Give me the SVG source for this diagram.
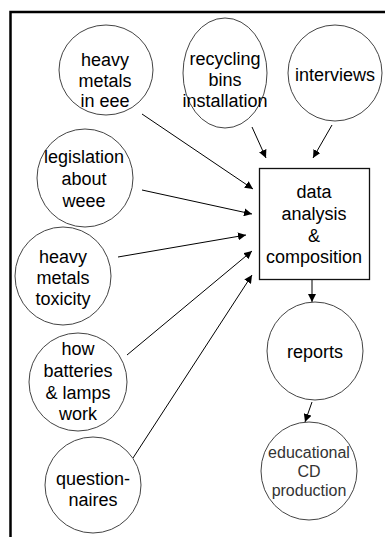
<svg xmlns="http://www.w3.org/2000/svg" width="385" height="537" viewBox="0 0 385 537">
<defs>
<marker id="ah" viewBox="0 0 10 10" refX="10" refY="5" markerWidth="8" markerHeight="8" markerUnits="userSpaceOnUse" orient="auto">
<path d="M0,0 L10,5 L0,10 z" fill="#000"/>
</marker>
<style>
.n{fill:#fff;stroke:#444;stroke-width:1}
.b{fill:#fff;stroke:#111;stroke-width:1.3}
.t{font-family:"Liberation Sans",Arial,sans-serif;font-size:18px;fill:#000;text-anchor:middle}
.g{font-family:"Liberation Sans",Arial,sans-serif;font-size:16px;fill:#333;text-anchor:middle}
.c{stroke:#000;stroke-width:1;fill:none;marker-end:url(#ah)}
</style>
</defs>
<rect width="385" height="537" fill="#fff"/>
<path d="M10.5,537 L10.5,12 L385,12" fill="none" stroke="#000" stroke-width="2.5"/>
<g id="connectors">
<line class="c" x1="142" y1="114" x2="253" y2="189"/>
<line class="c" x1="252" y1="127" x2="266" y2="158"/>
<line class="c" x1="332" y1="125" x2="313" y2="158"/>
<line class="c" x1="142" y1="190" x2="252" y2="214"/>
<line class="c" x1="118" y1="257" x2="246" y2="235"/>
<line class="c" x1="127" y1="355" x2="252" y2="251"/>
<line class="c" x1="133" y1="458" x2="252" y2="275"/>
<line class="c" x1="312" y1="280" x2="312" y2="302"/>
<line class="c" x1="312" y1="402" x2="305" y2="422"/>
</g>
<g id="n-eee">
<ellipse class="n" cx="106" cy="70" rx="47" ry="45"/>
<text class="t" x="105" y="66">heavy</text>
<text class="t" x="105" y="87">metals</text>
<text class="t" x="105" y="107">in eee</text>
</g>
<g id="n-recycling">
<ellipse class="n" cx="225" cy="73" rx="42" ry="55"/>
<text class="t" x="225" y="65">recycling</text>
<text class="t" x="225" y="86">bins</text>
<text class="t" x="225" y="107">installation</text>
</g>
<g id="n-interviews">
<ellipse class="n" cx="335" cy="73" rx="47" ry="48"/>
<text class="t" x="335" y="81">interviews</text>
</g>
<g id="n-legislation">
<ellipse class="n" cx="85" cy="178" rx="48" ry="49"/>
<text class="t" x="84" y="163">legislation</text>
<text class="t" x="84" y="185">about</text>
<text class="t" x="84" y="207">weee</text>
</g>
<g id="n-toxicity">
<ellipse class="n" cx="63" cy="276" rx="48" ry="49"/>
<text class="t" x="63" y="263">heavy</text>
<text class="t" x="63" y="284">metals</text>
<text class="t" x="63" y="305">toxicity</text>
</g>
<g id="n-batteries">
<ellipse class="n" cx="78" cy="382" rx="49" ry="49"/>
<text class="t" x="78" y="355">how</text>
<text class="t" x="78" y="377">batteries</text>
<text class="t" x="78" y="399">&amp; lamps</text>
<text class="t" x="78" y="420">work</text>
</g>
<g id="n-questionnaires">
<ellipse class="n" cx="93" cy="485" rx="48" ry="48"/>
<text class="t" x="93" y="485">question-</text>
<text class="t" x="93" y="506">naires</text>
</g>
<g id="n-data">
<rect class="b" x="259.5" y="168.5" width="110" height="111"/>
<text class="t" x="314" y="198">data</text>
<text class="t" x="314" y="220">analysis</text>
<text class="t" x="314" y="242">&amp;</text>
<text class="t" x="314" y="263">composition</text>
</g>
<g id="n-reports">
<ellipse class="n" cx="315" cy="351" rx="48" ry="49"/>
<text class="t" x="315" y="358">reports</text>
</g>
<g id="n-cd">
<ellipse class="n" cx="309" cy="471" rx="48" ry="49"/>
<text class="g" x="309" y="458">educational</text>
<text class="g" x="309" y="477">CD</text>
<text class="g" x="309" y="496">production</text>
</g>
</svg>
